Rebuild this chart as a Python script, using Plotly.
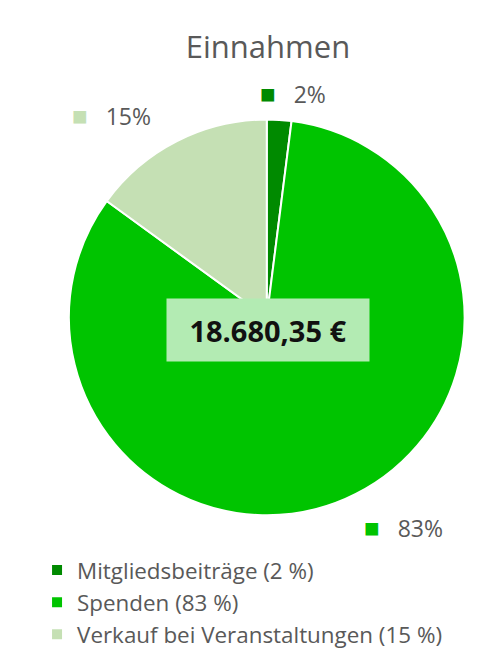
import plotly.graph_objects as go

categories = ["Mitgliedsbeiträge", "Spenden", "Verkauf bei Veranstaltungen"]
shares = [2, 83, 15]
colors = ["#008A00", "#00C400", "#C5E0B4"]
total_label = "18.680,35 €"
title = "Einnahmen"

W, H = 494, 653
FONT = "Open Sans, Lato, sans-serif"
legend_labels = [f"{c} ({s} %)" for c, s in zip(categories, shares)]

fig = go.Figure(go.Pie(
    labels=legend_labels,
    values=shares,
    sort=False,
    direction="clockwise",
    rotation=0,
    marker=dict(colors=colors, line=dict(color="white", width=2)),
    textinfo="none",
    hoverinfo="label+percent",
    domain=dict(x=[0.139, 0.941], y=[0.211, 0.817]),
))

# outside percentage labels (same order as shares)
label_pos = [(293, 93), (403, 527), (111, 115)]
for (px, py), s, c in zip(label_pos, shares, colors):
    fig.add_annotation(
        x=px / W, y=1 - py / H, xref="paper", yref="paper",
        text=f"<span style='color:{c};font-size:26px'>■</span>   {s}%",
        showarrow=False, font=dict(size=23, color="#595959", family=FONT),
        xanchor="center", yanchor="middle",
    )

# center total box
fig.add_annotation(
    x=268 / W, y=1 - 330 / H, xref="paper", yref="paper",
    text=f"<b>{total_label}</b>", showarrow=False,
    font=dict(size=29, color="#111111", family=FONT),
    bgcolor="#B3EBB3", width=200, height=60, align="center", valign="middle",
)

fig.update_layout(
    width=W, height=H,
    margin=dict(l=0, r=0, t=0, b=0, autoexpand=False),
    paper_bgcolor="white",
    title=dict(text=title, x=268 / W, xanchor="center", y=1 - 47 / H, yanchor="middle",
               font=dict(size=31, color="#595959", family=FONT)),
    showlegend=True,
    legend=dict(x=0.075, y=1 - 549 / H, xanchor="left", yanchor="top",
                font=dict(size=22.4, color="#595959", family=FONT),
                itemwidth=30, tracegroupgap=0),
)

fig.write_html("out.html")
